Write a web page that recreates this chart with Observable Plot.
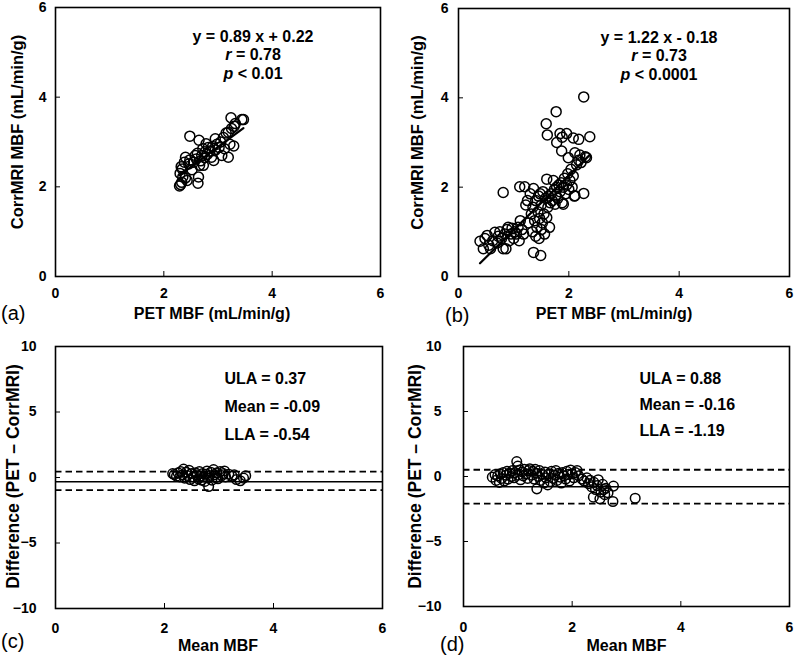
<!DOCTYPE html>
<html><head><meta charset="utf-8">
<script src="https://cdn.jsdelivr.net/npm/d3@7"></script>
<script src="https://cdn.jsdelivr.net/npm/@observablehq/plot@0.6"></script>
<style>
body{margin:0;background:#fff;}
#wrap{position:relative;width:797px;height:655px;background:#fff;font-family:"Liberation Sans",Arial,sans-serif;overflow:hidden;}
.panel{position:absolute;}
.tag{position:absolute;font-size:20px;line-height:20px;color:#000;}
</style></head><body><div id="wrap"></div>
<script>
// ---------- data ----------
const ticksMBF = [0, 2, 4, 6];
const ticksDiff = [-10, -5, 0, 5, 10];

// (a) PET MBF vs CorrMRI MBF
const petA =  [2.29,2.31,2.33,2.35,2.30,2.34,2.32,2.40,2.43,2.38,2.40,2.46,2.48,2.48,2.52,2.55,2.58,2.60,2.62,2.64,2.63,2.65,2.66,2.68,2.70,2.72,2.73,2.75,2.76,2.78,2.80,2.82,2.85,2.88,2.90,2.92,2.95,2.95,2.98,3.02,3.05,3.07,3.10,3.12,3.15,3.19,3.19,3.22,3.24,3.25,3.29,3.30,3.32,3.44,3.47];
const mriA =  [2.02,2.05,2.10,2.22,2.30,2.40,2.45,2.20,2.14,2.55,2.66,2.51,2.60,3.13,2.38,2.55,2.70,2.62,2.75,2.22,2.08,3.04,2.48,2.58,2.70,2.85,2.48,2.65,2.78,2.96,2.72,2.88,2.80,2.66,2.90,2.59,3.07,2.82,2.95,2.88,3.00,2.70,3.10,2.85,3.20,2.66,3.22,2.95,3.54,3.30,2.91,3.35,3.41,3.50,3.50];
const fitA = {slope: 0.89, intercept: 0.22};
const textA = ["y = 0.89 x + 0.22", "r = 0.78", "p < 0.01"];

// (b)
const petB = [0.39,0.45,0.48,0.52,0.55,0.58,0.62,0.66,0.70,0.72,0.75,0.78,0.81,0.84,0.86,0.88,0.90,0.92,0.95,0.97,1.00,1.02,1.05,1.08,1.10,1.12,1.15,1.18,
  0.81,1.11,1.20,1.36,1.49,
  1.22,1.25,1.27,1.30,1.32,1.34,1.35,1.36,1.38,1.40,1.40,1.42,1.44,1.45,1.46,1.47,1.48,1.50,1.50,1.52,1.53,1.55,1.56,1.58,1.60,1.60,1.62,1.63,1.65,1.66,1.68,1.70,1.72,1.74,1.75,1.76,1.78,1.80,1.82,1.84,1.86,1.88,1.90,1.90,1.92,1.94,1.96,1.98,2.00,2.02,2.04,2.06,2.08,2.10,2.11,2.14,2.18,2.22,2.27,2.30,
  2.27,1.77,1.59,1.61,1.84,1.96,1.88,2.08,2.18,2.38,1.78,1.87,1.99,2.11,2.20,2.32];
const mriB = [0.79,0.62,0.85,0.92,0.70,0.62,0.80,0.99,0.75,0.90,1.00,0.85,0.62,0.95,0.62,1.05,1.10,0.80,0.95,1.08,0.85,1.00,0.95,1.10,0.80,1.25,1.05,0.95,
  1.88,2.01,2.01,0.54,0.47,
  1.60,1.70,1.20,1.85,1.40,1.00,1.55,1.97,1.25,0.90,1.70,1.10,1.45,1.80,0.85,1.30,1.85,1.05,1.60,1.20,1.90,1.40,0.95,1.75,1.32,2.18,1.55,1.80,1.10,1.65,1.85,1.70,2.15,1.95,1.62,1.80,2.00,1.75,2.05,1.90,2.10,1.65,2.00,1.62,2.20,1.85,2.05,2.30,1.95,2.15,2.40,2.00,2.25,1.80,1.81,2.50,2.60,2.55,1.86,2.68,
  4.02,3.69,3.42,3.17,3.20,3.20,3.12,3.10,3.07,3.13,3.00,2.81,2.66,2.77,2.72,2.66];
const fitB = {slope: 1.22, intercept: -0.18};
const textB = ["y = 1.22 x - 0.18", "r = 0.73", "p < 0.0001"];

// (c) Bland-Altman
const meanC = [2.15,2.18,2.22,2.25,2.28,2.30,2.33,2.35,2.37,2.40,2.42,2.45,2.47,2.50,2.52,2.55,2.57,2.60,2.62,2.64,2.66,2.68,2.70,2.72,2.74,2.76,2.78,2.80,2.81,2.83,2.85,2.87,2.90,2.92,2.94,2.96,2.98,3.02,3.05,3.08,3.10,3.12,3.18,3.24,3.28,3.32,3.39,3.45,3.49];
const diffC = [0.30,0.22,0.10,0.35,0.05,0.45,0.20,0.64,-0.05,0.40,0.15,0.55,-0.15,0.30,0.05,-0.25,0.35,0.20,-0.10,0.45,0.10,-0.20,0.30,0.05,-0.30,0.25,0.50,-0.05,-0.69,0.15,0.40,-0.20,0.60,0.20,0.00,0.35,-0.10,0.45,0.15,0.30,0.50,0.05,0.25,0.10,0.20,-0.15,-0.25,-0.05,0.13];
const limitsC = [0.45, -0.96];   // dashed lines as drawn
const biasC = [-0.33];           // solid line as drawn
const textC = ["ULA = 0.37", "Mean = -0.09", "LLA = -0.54"];

// (d)
const meanD = [0.53,0.58,0.60,0.63,0.66,0.68,0.70,0.73,0.75,0.78,0.80,0.82,0.85,0.88,0.90,0.93,0.95,0.98,1.00,1.00,1.03,1.05,1.08,1.10,1.12,1.15,1.18,1.20,1.22,1.25,1.28,1.30,1.32,1.35,1.35,1.38,1.40,1.42,1.45,1.48,1.50,1.52,1.55,1.57,1.60,1.62,1.65,1.68,1.70,1.72,1.75,1.78,1.80,1.82,1.85,1.88,1.90,1.92,1.95,1.97,2.00,2.03,2.06,2.09,2.12,2.18,2.22,2.27,2.30,2.33,2.36,2.39,2.40,2.43,2.46,2.48,2.51,2.53,2.56,2.58,2.60,2.62,2.66,2.75,2.76,3.16];
const diffD = [-0.05,0.15,-0.30,0.05,-0.45,0.20,-0.15,0.30,-0.35,0.10,0.40,-0.20,0.25,0.00,0.45,-0.10,0.30,1.15,0.80,0.10,0.50,-0.25,0.35,0.05,0.55,0.20,-0.15,0.45,0.60,0.10,0.40,-0.20,0.55,-0.95,0.25,0.00,0.45,-0.30,0.15,-0.50,0.35,-0.10,-0.65,0.20,-0.40,0.40,-0.15,0.10,0.45,-0.30,0.25,-0.05,-0.50,0.30,0.05,-0.20,0.40,0.15,-0.35,0.50,0.20,-0.10,0.30,0.46,0.05,-0.20,-0.35,-0.10,-0.55,-0.30,-0.80,-1.59,-0.45,-1.00,-0.70,-0.25,-1.72,-1.20,-0.60,-1.00,-1.40,-0.90,-1.25,-1.92,-0.74,-1.67];
const limitsD = [0.52, -2.08];
const biasD = [-0.79];
const textD = ["ULA = 0.88", "Mean = -0.16", "LLA = -1.19"];

const xTitleScatter = "PET MBF (mL/min/g)";
const yTitleScatter = "CorrMRI MBF (mL/min/g)";
const xTitleBA = "Mean MBF";
const yTitleBA = "Difference (PET \u2013 CorrMRI)";
const tags = ["(a)", "(b)", "(c)", "(d)"];

// ---------- drawing ----------
const FONT = "'Liberation Sans', Arial, sans-serif";
const toPts = (xs, ys) => xs.map((x, i) => ({x, y: ys[i]}));

function axes(ticksY, xPad, yPad) {
  return [
    Plot.axisX(ticksMBF, {anchor: "bottom", tickSize: -5, tickPadding: xPad, fontSize: 14, fontWeight: "bold", label: null}),
    Plot.axisY(ticksY, {anchor: "left", tickSize: -5, tickPadding: yPad, fontSize: 14, fontWeight: "bold", label: null})
  ];
}

function titles(xt, yt, xdx, xdy, ydx, ydy, ySize) {
  return [
    Plot.text([xt], {text: d => d, frameAnchor: "bottom", textAnchor: "middle", dx: xdx, dy: xdy, lineAnchor: "middle", fontSize: 16, fontWeight: "bold"}),
    Plot.text([yt], {text: d => d, frameAnchor: "left", textAnchor: "middle", rotate: -90, dx: ydx, dy: ydy, lineAnchor: "middle", fontSize: ySize, fontWeight: "bold"})
  ];
}

function scatterPanel(pts, fit, lines, cfg) {
  const xs = pts.map(d => d.x);
  const ends = d3.extent(xs).map(x => ({x, y: fit.slope * x + fit.intercept}));
  return Plot.plot({
    width: cfg.w, height: cfg.h,
    marginLeft: cfg.ml, marginRight: cfg.mr, marginTop: cfg.mt, marginBottom: cfg.mb,
    style: {fontFamily: FONT, background: "white", color: "black", overflow: "visible"},
    x: {domain: [0, 6], axis: null},
    y: {domain: [0, 6], axis: null},
    marks: [
      Plot.frame({stroke: "black", strokeWidth: 1.6}),
      ...axes(ticksMBF, cfg.xPad, cfg.yPad),
      Plot.dot(pts, {x: "x", y: "y", r: 5, stroke: "black", strokeWidth: 1.5, fill: "none"}),
      Plot.line(ends, {x: "x", y: "y", stroke: "black", strokeWidth: 2.2}),
      ...lines.map((t, i) => Plot.text([t], {text: d => d, frameAnchor: "top", textAnchor: "middle", dx: cfg.tdx, dy: cfg.tdy[i], lineAnchor: "middle", fontSize: 16, fontWeight: "bold"})),
      ...titles(xTitleScatter, yTitleScatter, cfg.xdx, cfg.xdy, cfg.ydx, cfg.ydy, 16.5)
    ]
  });
}

function baPanel(pts, limits, bias, lines, cfg) {
  return Plot.plot({
    width: cfg.w, height: cfg.h,
    marginLeft: cfg.ml, marginRight: cfg.mr, marginTop: cfg.mt, marginBottom: cfg.mb,
    style: {fontFamily: FONT, background: "white", color: "black", overflow: "visible"},
    x: {domain: [0, 6], axis: null},
    y: {domain: [-10, 10], axis: null},
    marks: [
      Plot.ruleY(limits, {stroke: "black", strokeWidth: 1.8, strokeDasharray: "6.5,4"}),
      Plot.ruleY(bias, {stroke: "black", strokeWidth: 1.6}),
      Plot.frame({stroke: "black", strokeWidth: 1.6}),
      ...axes(ticksDiff, cfg.xPad, cfg.yPad),
      Plot.dot(pts, {x: "x", y: "y", r: 4.8, stroke: "black", strokeWidth: 1.5, fill: "none"}),
      ...lines.map((t, i) => Plot.text([t], {text: d => d, frameAnchor: "top-left", textAnchor: "start", dx: cfg.tdx, dy: cfg.tdy[i], lineAnchor: "middle", fontSize: 16, fontWeight: "bold"})),
      ...titles(xTitleBA, yTitleBA, cfg.xdx, cfg.xdy, cfg.ydx, cfg.ydy, 17.5)
    ]
  });
}

const wrap = document.getElementById("wrap");
function place(node, left, top) {
  node.classList.add("panel");
  node.style.left = left + "px";
  node.style.top = top + "px";
  wrap.appendChild(node);
  // italic r / p
  d3.select(node).selectAll("text").each(function () {
    const t = this.textContent;
    const m = /^([rp]) (.*)$/.exec(t);
    if (m && this.childNodes.length === 1) {
      this.textContent = "";
      const s = d3.select(this);
      s.append("tspan").attr("font-style", "italic").text(m[1]);
      s.append("tspan").text(" " + m[2]);
    }
  });
}

place(scatterPanel(toPts(petA, mriA), fitA, textA, {
  w: 400, h: 330, ml: 55, mr: 20, mt: 7, mb: 54, xPad: 17, yPad: 14,
  tdx: 35, tdy: [29, 47, 66], xdx: -6, xdy: 37, ydx: -38, ydy: -10
}), 0, 0);

place(scatterPanel(toPts(petB, mriB), fitB, textB, {
  w: 397, h: 330, ml: 58, mr: 8, mt: 8, mb: 54, xPad: 17, yPad: 15,
  tdx: 35, tdy: [29, 47, 66], xdx: -10, xdy: 37, ydx: -41, ydy: -10
}), 400, 0);

place(baPanel(toPts(meanC, diffC), limitsC, biasC, textC, {
  w: 400, h: 325, ml: 55, mr: 18, mt: 16, mb: 47, xPad: 20, yPad: 24,
  tdx: 169, tdy: [32, 60, 88], xdx: -1, xdy: 37, ydx: -42, ydy: -1
}), 0, 330);

place(baPanel(toPts(meanD, diffD), limitsD, biasD, textD, {
  w: 397, h: 325, ml: 63, mr: 8, mt: 16, mb: 49, xPad: 21, yPad: 27,
  tdx: 176, tdy: [32, 58, 84], xdx: 0, xdy: 39, ydx: -48, ydy: 0
}), 400, 330);

const tagPos = [[1, 303], [445, 305], [1, 631], [440, 634]];
tags.forEach((t, i) => {
  const d = document.createElement("div");
  d.className = "tag";
  d.textContent = t;
  d.style.left = tagPos[i][0] + "px";
  d.style.top = tagPos[i][1] + "px";
  wrap.appendChild(d);
});
</script>
</body></html>
